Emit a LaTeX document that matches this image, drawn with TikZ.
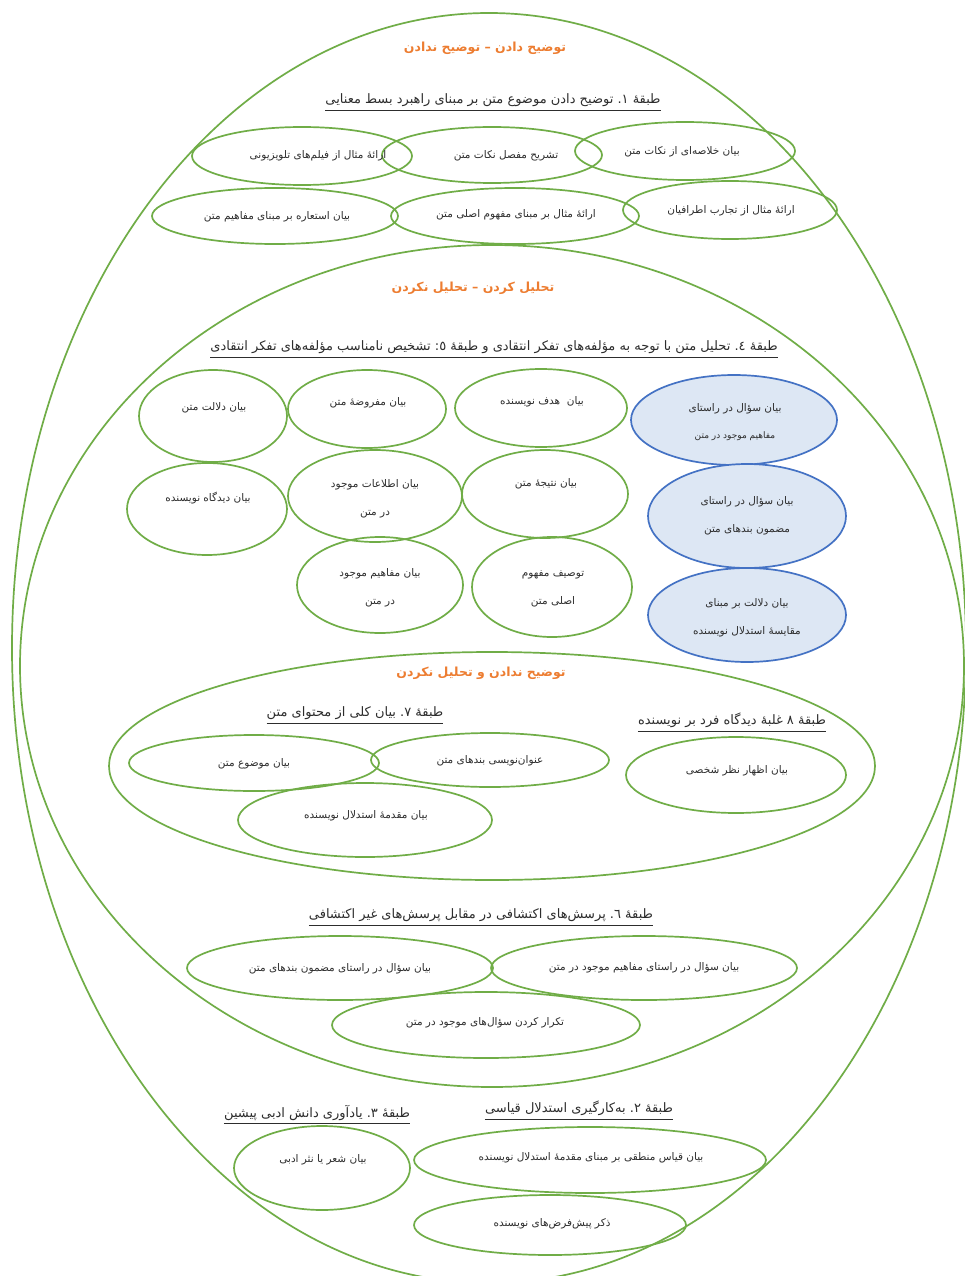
\documentclass[tikz,border=0pt]{standalone}
\usepackage{fontspec}
\usetikzlibrary{shapes.geometric}
\TeXXeTstate=1
\newfontfamily\fa[Script=Arabic]{DejaVu Sans}
\newcommand\prs[1]{{\fa\beginR #1\endR}}
\definecolor{grn}{RGB}{112,173,71}
\definecolor{org}{RGB}{237,125,49}
\definecolor{blu}{RGB}{68,114,196}
\definecolor{blufill}{RGB}{221,231,244}
\definecolor{txt}{RGB}{45,45,45}
\begin{document}
\begin{tikzpicture}[x=1pt,y=-1pt,
  ell/.style={draw=grn, line width=1.7pt, ellipse, inner sep=0pt},
  bell/.style={draw=blu, fill=blufill, line width=1.7pt, ellipse, inner sep=0pt},
  ttl/.style={text=org, font=\bfseries\fontsize{12.5}{14}\selectfont, inner sep=0pt},
  hd/.style={text=txt, font=\fontsize{13}{15}\selectfont, inner sep=0pt, text depth=4pt},
  lb/.style={text=txt, font=\fontsize{10.5}{12.5}\selectfont, inner sep=0pt, align=center},
  uline/.style={draw=txt, line width=0.9pt}]
\useasboundingbox (0,0) rectangle (965,1276);
\clip (0,0) rectangle (965,1276);
\fill[white] (0,0) rectangle (965,1276);

% large enclosing ellipses
\node[ell, minimum width=954pt, minimum height=1270pt] (outer) at (489,648) {};
\node[ell, minimum width=944pt, minimum height=842pt] (mid) at (492,666) {};
\node[ell, minimum width=766pt, minimum height=228pt] (inner) at (492,766) {};

% ---------- section 1 ----------
\node[ttl] (t1) at (485,48) {\prs{توضیح دادن – توضیح ندادن}};
\node[hd] (h1) at (493,101) {\prs{طبقهٔ \hbox{۱}\hbox{.} توضیح دادن موضوع متن بر مبنای راهبرد بسط معنایی}};
\draw[uline] ([yshift=-2pt]h1.south west) -- ([yshift=-2pt]h1.south east);

\node[ell, minimum width=220pt, minimum height=58pt] (a1) at (302,156) {};
\node[ell, minimum width=220pt, minimum height=56pt] (a2) at (492,155) {};
\node[ell, minimum width=220pt, minimum height=58pt] (a3) at (685,151) {};
\node[ell, minimum width=246pt, minimum height=56pt] (a4) at (275,216) {};
\node[ell, minimum width=248pt, minimum height=56pt] (a5) at (515,216) {};
\node[ell, minimum width=214pt, minimum height=58pt] (a6) at (730,210) {};
\node[lb] (a1t) at (318,156) {\prs{ارائهٔ مثال از فیلم‌های تلویزیونی}};
\node[lb] (a2t) at (506,156) {\prs{تشریح مفصل نکات متن}};
\node[lb] (a3t) at (682,152) {\prs{بیان خلاصه‌ای از نکات متن}};
\node[lb] (a4t) at (277,217) {\prs{بیان استعاره بر مبنای مفاهیم متن}};
\node[lb] (a5t) at (516,215) {\prs{ارائهٔ مثال بر مبنای مفهوم اصلی متن}};
\node[lb] (a6t) at (731,211) {\prs{ارائهٔ مثال از تجارب اطرافیان}};

% ---------- section 2 ----------
\node[ttl] (t2) at (473,288) {\prs{تحلیل کردن – تحلیل نکردن}};
\node[hd] (h4) at (494,348) {\prs{طبقهٔ \hbox{٤}\hbox{.} تحلیل متن با توجه به مؤلفه‌های تفکر انتقادی و طبقهٔ \hbox{٥}\hbox{:} تشخیص نامناسب مؤلفه‌های تفکر انتقادی}};
\draw[uline] ([yshift=-2pt]h4.south west) -- ([yshift=-2pt]h4.south east);

\node[ell, minimum width=148pt, minimum height=92pt] (b1) at (213,416) {};
\node[ell, minimum width=158pt, minimum height=78pt] (b2) at (367,409) {};
\node[ell, minimum width=172pt, minimum height=78pt] (b3) at (541,408) {};
\node[bell, minimum width=206pt, minimum height=90pt] (b4) at (734,420) {};
\node[ell, minimum width=160pt, minimum height=92pt] (b5) at (207,509) {};
\node[ell, minimum width=174pt, minimum height=92pt] (b6) at (375,496) {};
\node[ell, minimum width=166pt, minimum height=88pt] (b7) at (545,494) {};
\node[bell, minimum width=198pt, minimum height=104pt] (b8) at (747,516) {};
\node[ell, minimum width=166pt, minimum height=96pt] (b9) at (380,585) {};
\node[ell, minimum width=160pt, minimum height=100pt] (b10) at (552,587) {};
\node[bell, minimum width=198pt, minimum height=94pt] (b11) at (747,615) {};
\node[lb] (b1t) at (214,408) {\prs{بیان دلالت متن}};
\node[lb] (b2t) at (368,403) {\prs{بیان مفروضهٔ متن}};
\node[lb] (b3t) at (542,402) {\prs{بیان\ \ هدف نویسنده}};
\node[lb] (b4t) at (735,422) {\prs{بیان سؤال در راستای}\\[15pt]{\fontsize{9}{11}\selectfont\prs{مفاهیم موجود در متن}}};
\node[lb] (b5t) at (208,498) {\prs{بیان دیدگاه نویسنده}};
\node[lb] (b6t) at (375,499) {\prs{بیان اطلاعات موجود}\\[16pt]\prs{در متن}};
\node[lb] (b7t) at (546,484) {\prs{بیان نتیجهٔ متن}};
\node[lb] (b8t) at (747,516) {\prs{بیان سؤال در راستای}\\[15pt]\prs{مضمون بندهای متن}};
\node[lb] (b9t) at (380,588) {\prs{بیان مفاهیم موجود}\\[16pt]\prs{در متن}};
\node[lb] (b10t) at (553,589) {\prs{توصیف مفهوم}\\[16pt]\prs{اصلی متن}};
\node[lb] (b11t) at (747,618) {\prs{بیان دلالت بر مبنای}\\[15pt]\prs{مقایسهٔ استدلال نویسنده}};

% ---------- section 3 ----------
\node[ttl] (t3) at (481,673) {\prs{توضیح ندادن و تحلیل نکردن}};
\node[hd] (h7) at (355,714) {\prs{طبقهٔ \hbox{۷}\hbox{.} بیان کلی از محتوای متن}};
\draw[uline] ([yshift=-2pt]h7.south west) -- ([yshift=-2pt]h7.south east);
\node[hd] (h8) at (732,721) {\prs{طبقهٔ ۸ غلبهٔ دیدگاه فرد بر نویسنده}};
\draw[uline] ([yshift=-2pt]h8.south west) -- ([yshift=-2pt]h8.south east);

\node[ell, minimum width=250pt, minimum height=56pt] (c1) at (254,763) {};
\node[ell, minimum width=238pt, minimum height=54pt] (c2) at (490,760) {};
\node[ell, minimum width=254pt, minimum height=74pt] (c3) at (365,820) {};
\node[ell, minimum width=220pt, minimum height=76pt] (c4) at (736,775) {};
\node[lb] (c1t) at (254,764) {\prs{بیان موضوع متن}};
\node[lb] (c2t) at (490,761) {\prs{عنوان‌نویسی بندهای متن}};
\node[lb] (c3t) at (366,816) {\prs{بیان مقدمهٔ استدلال نویسنده}};
\node[lb] (c4t) at (737,771) {\prs{بیان اظهار نظر شخصی}};

% ---------- section 4 ----------
\node[hd] (h6) at (481,916) {\prs{طبقهٔ \hbox{٦}\hbox{.} پرسش‌های اکتشافی در مقابل پرسش‌های غیر اکتشافی}};
\draw[uline] ([yshift=-2pt]h6.south west) -- ([yshift=-2pt]h6.south east);
\node[ell, minimum width=306pt, minimum height=64pt] (d1) at (340,968) {};
\node[ell, minimum width=306pt, minimum height=64pt] (d2) at (644,968) {};
\node[ell, minimum width=308pt, minimum height=66pt] (d3) at (486,1025) {};
\node[lb] (d1t) at (340,969) {\prs{بیان سؤال در راستای مضمون بندهای متن}};
\node[lb] (d2t) at (644,968) {\prs{بیان سؤال در راستای مفاهیم موجود در متن}};
\node[lb] (d3t) at (485,1023) {\prs{تکرار کردن سؤال‌های موجود در متن}};

% ---------- section 5 ----------
\node[hd] (h3) at (317,1113) {\prs{طبقهٔ \hbox{۳}\hbox{.} یادآوری دانش ادبی پیشین}};
\draw[uline] ([yshift=-2pt]h3.south west) -- ([yshift=-2pt]h3.south east);
\node[hd] (h2) at (579,1109) {\prs{طبقهٔ \hbox{۲}\hbox{.} به‌کارگیری استدلال قیاسی}};
\draw[uline] ([yshift=-2pt]h2.south west) -- ([yshift=-2pt]h2.south east);
\node[ell, minimum width=176pt, minimum height=84pt] (f1) at (322,1168) {};
\node[ell, minimum width=352pt, minimum height=66pt] (f2) at (590,1160) {};
\node[ell, minimum width=272pt, minimum height=60pt] (f3) at (550,1225) {};
\node[lb] (f1t) at (323,1160) {\prs{بیان شعر یا نثر ادبی}};
\node[lb] (f2t) at (591,1158) {\prs{بیان قیاس منطقی بر مبنای مقدمهٔ استدلال نویسنده}};
\node[lb] (f3t) at (552,1224) {\prs{ذکر پیش‌فرض‌های نویسنده}};
\end{tikzpicture}
\end{document}
